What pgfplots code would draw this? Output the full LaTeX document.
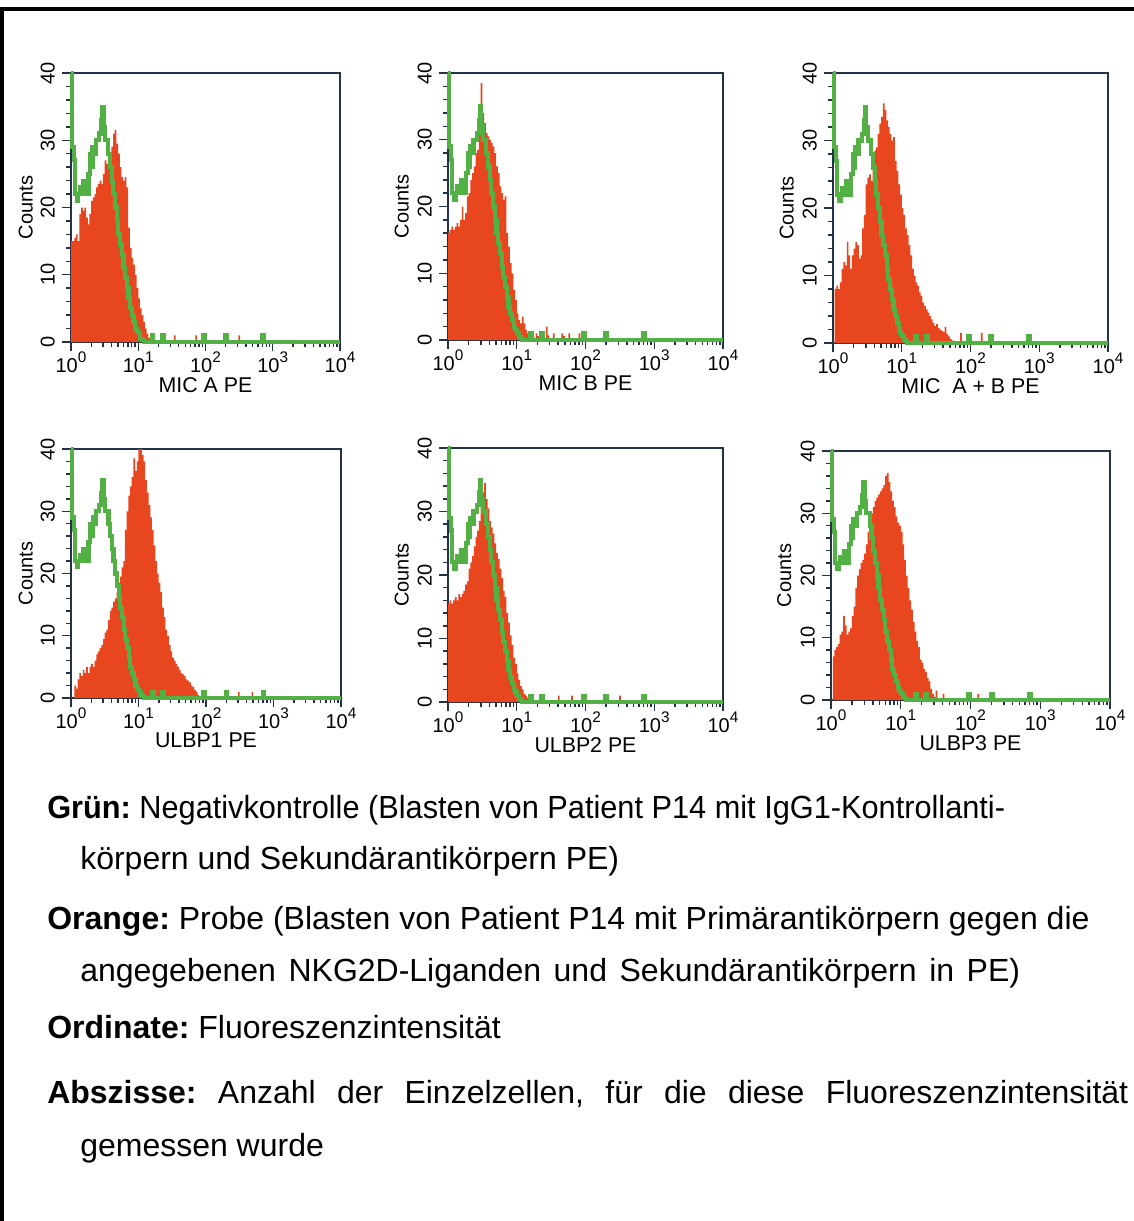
\documentclass[border=0pt]{standalone}
\usepackage{fontspec}
\setmainfont{Liberation Sans}
\usepackage{pgfplots}
\usepackage{pgfplotstable}
\pgfplotsset{compat=1.18}
\definecolor{orangeC}{RGB}{232,70,30}
\definecolor{greenC}{RGB}{82,176,68}
\definecolor{axiscol}{RGB}{35,50,70}
\newcommand\tsup[1]{\raisebox{0.5em}{\fontsize{11.5}{12}\selectfont #1}}

\pgfplotstableread{
d c
0.000 40
0.020 29
0.045 27
0.060 22
0.085 21
0.110 22
0.135 23
0.160 22
0.185 24
0.210 23
0.235 22
0.260 25
0.285 28
0.300 26
0.320 29
0.345 28
0.370 30
0.395 30
0.420 31
0.445 33
0.465 35
0.485 32
0.505 30
0.530 30
0.555 28
0.580 26
0.605 24
0.630 22
0.655 20
0.680 18
0.705 16
0.730 14.5
0.755 13
0.780 11
0.805 9.5
0.830 8
0.855 6.5
0.880 5
0.905 4
0.930 3
0.955 2
0.980 1.5
1.005 1
1.030 0.5
1.055 0.3
1.080 0
1.200 1
1.225 0
1.350 1
1.375 0
1.960 1
1.985 0
2.290 1
2.315 0
2.840 1
2.865 0
4.000 0
}\tblGreen

\pgfplotstableread{
d c
0.000 15
0.025 15
0.050 15.5
0.075 16
0.100 15
0.125 19
0.150 20
0.175 19.5
0.200 20
0.225 18.5
0.250 17.5
0.275 19
0.300 21
0.325 21.5
0.350 22
0.375 23
0.400 23.5
0.425 24
0.450 23.5
0.475 25
0.500 27
0.525 26.5
0.550 28
0.575 27.5
0.600 29
0.625 31
0.650 31.5
0.675 29.5
0.700 28
0.725 26
0.750 24.5
0.775 24
0.800 24.5
0.825 23
0.850 17
0.875 14
0.900 12.5
0.925 11.5
0.950 10
0.975 8
1.000 6.5
1.025 5
1.050 4
1.075 3
1.100 2
1.125 1.2
1.150 0.6
1.175 0
1.530 1
1.555 0
1.850 1
1.875 0
2.490 1
2.515 0
4.000 0
}\tblA

\pgfplotstableread{
d c
0.000 16
0.025 16.5
0.050 17
0.075 16.5
0.100 17
0.125 17.5
0.150 17
0.175 18
0.200 20
0.225 18
0.250 19
0.275 21.5
0.300 22
0.325 24
0.350 25
0.375 26
0.400 28
0.425 28.5
0.450 33
0.475 38.5
0.500 34
0.525 32.5
0.550 31
0.575 30.5
0.600 30
0.625 29.5
0.650 29
0.675 28
0.700 26
0.725 25
0.750 23
0.775 22
0.800 21
0.825 21.5
0.850 16
0.875 14
0.900 11.5
0.925 10
0.950 7.5
0.975 6
1.000 4
1.025 3
1.050 2.5
1.075 3.5
1.100 2.5
1.125 1.5
1.150 1
1.175 1
1.200 0.7
1.225 0
1.275 1
1.300 0.6
1.325 1
1.350 0.5
1.375 0
1.425 2
1.450 0.7
1.475 0
1.525 1
1.550 0
1.650 1
1.675 0.6
1.700 0
1.750 1
1.775 0
1.900 1
1.925 0
4.000 0
}\tblB

\pgfplotstableread{
d c
0.000 0
0.025 8
0.050 8.5
0.075 8
0.100 9
0.125 11
0.150 12
0.175 11.5
0.200 15
0.225 13
0.250 11
0.275 13
0.300 14
0.325 15
0.350 14.5
0.375 12.5
0.400 13
0.425 17
0.450 19
0.475 23.5
0.500 24.5
0.525 25
0.550 24
0.575 26.5
0.600 28.5
0.625 29
0.650 31
0.675 32.5
0.700 33.5
0.725 35.5
0.750 34.5
0.775 33
0.800 32
0.825 31
0.850 30
0.875 30.5
0.900 27
0.925 25.5
0.950 23.5
0.975 22
1.000 20
1.025 19
1.050 17
1.075 16
1.100 14.5
1.125 13
1.150 11
1.175 10
1.200 9
1.225 8.5
1.250 7.5
1.275 7
1.300 6
1.325 5.5
1.350 5
1.375 4.5
1.400 4
1.425 3.5
1.450 3
1.475 2.5
1.500 2.8
1.525 2.2
1.550 2
1.575 1.8
1.600 1.6
1.625 2.4
1.650 1.3
1.675 1
1.700 0.6
1.725 0.4
1.750 0
1.850 1.5
1.875 0
2.150 1.5
2.175 0
4.000 0
}\tblAB

\pgfplotstableread{
d c
0.000 0
0.050 2
0.075 1.5
0.100 3
0.125 4
0.150 3.5
0.175 4.5
0.200 4
0.225 5
0.250 4
0.275 5
0.300 5.5
0.325 5
0.350 6
0.375 7
0.400 7.5
0.425 8
0.450 8.5
0.475 9.5
0.500 10.5
0.525 11
0.550 12.5
0.575 14
0.600 14.5
0.625 15.5
0.650 16
0.675 17
0.700 18.5
0.725 19.5
0.750 21
0.775 22
0.800 27
0.825 30
0.850 32.5
0.875 34
0.900 35.5
0.925 38.5
0.950 36.5
0.975 38
1.000 40
1.025 40
1.050 39
1.075 38
1.100 35
1.125 33
1.150 31
1.175 29
1.200 27
1.225 24.5
1.250 22
1.275 20
1.300 18.5
1.325 17
1.350 14.5
1.375 13
1.400 11
1.425 10
1.450 8.5
1.475 7.5
1.500 6.5
1.525 6
1.550 5.5
1.575 5
1.600 4.5
1.625 4
1.650 3.8
1.675 3.5
1.700 3
1.725 2.8
1.750 2.5
1.775 2
1.800 1.8
1.825 1.3
1.850 1
1.875 0.5
1.900 0
2.475 1
2.500 0
2.675 1
2.700 0
4.000 0
}\tblU

\pgfplotstableread{
d c
0.000 15.5
0.025 16
0.050 15.5
0.075 16
0.100 16.5
0.125 16
0.150 17
0.175 16.5
0.200 17
0.225 17.5
0.250 18.5
0.275 19
0.300 21
0.325 22
0.350 23
0.375 24.5
0.400 26
0.425 27
0.450 28.5
0.475 31
0.500 33
0.525 34.5
0.550 32
0.575 30.5
0.600 28.5
0.625 27.5
0.650 26.5
0.675 25
0.700 23.5
0.725 22.5
0.750 21
0.775 19.5
0.800 17.5
0.825 16.5
0.850 14
0.875 12.5
0.900 10.5
0.925 9
0.950 7
0.975 6
1.000 4.5
1.025 3.5
1.050 2.5
1.075 2
1.100 1.3
1.125 1
1.150 0.6
1.175 0
1.200 1
1.225 0
1.375 1
1.400 0
1.600 1
1.625 0
1.790 1
1.815 0
2.490 1
2.515 0
4.000 0
}\tblUb

\pgfplotstableread{
d c
0.000 0
0.025 7
0.050 8
0.075 8.5
0.100 9
0.125 10.5
0.150 11
0.175 13.5
0.200 12
0.225 10.5
0.250 11
0.275 11.5
0.300 13.5
0.325 15
0.350 18
0.375 20
0.400 21
0.425 22
0.450 22.5
0.475 23.5
0.500 25
0.525 27
0.550 28.5
0.575 30
0.600 31
0.625 32
0.650 32.5
0.675 33
0.700 33.5
0.725 34
0.750 34.5
0.775 36
0.800 36.5
0.825 35
0.850 33.5
0.875 32
0.900 31
0.925 29.5
0.950 28.5
0.975 28
1.000 27
1.025 25
1.050 22.5
1.075 20
1.100 18
1.125 16
1.150 14.5
1.175 12.5
1.200 11
1.225 9.5
1.250 8.5
1.275 6.5
1.300 6
1.325 5
1.350 4.5
1.375 3.5
1.400 3
1.425 1.8
1.450 1
1.475 0.5
1.500 1.5
1.525 0
1.600 1
1.625 0
2.100 1
2.125 0
4.000 0
}\tblUc

\pgfplotsset{
  every axis/.append style={
    scale only axis, xmin=1, xmax=10000, ymin=0, ymax=40,
    clip=false, anchor=south west,
    axis line style={draw=axiscol, line width=1.4pt},
    xtick={1,10,100,1000,10000},
    xticklabels={10\tsup{0},10\tsup{1},10\tsup{2},10\tsup{3},10\tsup{4}},
    ytick={0,10,20,30,40}, yticklabels={0,10,20,30,40}, minor y tick num=4,
    tick align=outside, xtick pos=lower, ytick pos=left,
    major tick length=6.5pt, minor tick length=3.8pt,
    tick style={axiscol, line width=1.1pt},
    tick label style={font=\fontsize{15}{16}\selectfont, text=black},
    xticklabel style={inner sep=1pt},
    yticklabel style={rotate=90, anchor=south, inner ysep=5.5pt},
    ylabel={Counts},
    ylabel style={font=\fontsize{15}{16}\selectfont, at={(axis description cs:-0.168,0.5)}, anchor=center},
    xlabel style={font=\fontsize{16}{17}\selectfont, at={(axis description cs:0.5,0)}, anchor=center, yshift=-32pt},
  },
  orangeh/.style={const plot, fill=orangeC, draw=none},
  greenh/.style={const plot, draw=greenC, line width=3.1pt, line join=miter},
}

\begin{document}
\frenchspacing
\begin{tikzpicture}[x=0.75pt,y=-0.75pt]
\path (0,0) rectangle (1134,1221);
\fill[black] (0,7) rectangle (4,1221);
\fill[black] (0,7) rectangle (1134,11);

\begin{semilogxaxis}[at={(53.25pt,-256.5pt)}, width=201.75pt, height=201.75pt, xlabel={MIC A PE}]
\addplot[orangeh] table[x expr={10^(\thisrow{d})}, y=c]{\tblA} \closedcycle;
\addplot[greenh] table[x expr={10^(\thisrow{d})}, y=c]{\tblGreen};
\end{semilogxaxis}

\begin{semilogxaxis}[at={(336pt,-255pt)}, width=206.25pt, height=200.25pt, xlabel={MIC B PE}]
\addplot[orangeh] table[x expr={10^(\thisrow{d})}, y=c]{\tblB} \closedcycle;
\addplot[greenh] table[x expr={10^(\thisrow{d})}, y=c]{\tblGreen};
\end{semilogxaxis}

\begin{semilogxaxis}[at={(624.75pt,-257.25pt)}, width=206.25pt, height=202.5pt, xlabel={MIC~~A + B PE}]
\addplot[orangeh] table[x expr={10^(\thisrow{d})}, y=c]{\tblAB} \closedcycle;
\addplot[greenh] table[x expr={10^(\thisrow{d})}, y=c]{\tblGreen};
\end{semilogxaxis}

\begin{semilogxaxis}[at={(53.25pt,-523.5pt)}, width=202.5pt, height=186.75pt, xlabel={ULBP1 PE}]
\addplot[orangeh] table[x expr={10^(\thisrow{d})}, y=c]{\tblU} \closedcycle;
\addplot[greenh] table[x expr={10^(\thisrow{d})}, y=c]{\tblGreen};
\end{semilogxaxis}

\begin{semilogxaxis}[at={(336pt,-526.5pt)}, width=206.25pt, height=190.5pt, xlabel={ULBP2 PE}]
\addplot[orangeh] table[x expr={10^(\thisrow{d})}, y=c]{\tblUb} \closedcycle;
\addplot[greenh] table[x expr={10^(\thisrow{d})}, y=c]{\tblGreen};
\end{semilogxaxis}

\begin{semilogxaxis}[at={(623.25pt,-525pt)}, width=209.25pt, height=186.75pt, xlabel={ULBP3 PE}]
\addplot[orangeh] table[x expr={10^(\thisrow{d})}, y=c]{\tblUc} \closedcycle;
\addplot[greenh] table[x expr={10^(\thisrow{d})}, y=c]{\tblGreen};
\end{semilogxaxis}

\begin{scope}[every node/.style={inner sep=0pt, font=\fontsize{24}{28}\selectfont}]
\node[anchor=base west] at (47,818) {\scalebox{0.96}[1]{\textbf{Grün:} Negativkontrolle (Blasten von Patient P14 mit IgG1-Kontrollanti-}};
\node[anchor=base west] at (80,869) {körpern und Sekundärantikörpern PE)};
\node[anchor=base west] at (47,929) {\textbf{Orange:} Probe (Blasten von Patient P14 mit Primärantikörpern gegen die};
\node[anchor=base west] at (80,981) {\makebox[705pt][s]{angegebenen NKG2D-Liganden und Sekundärantikörpern in PE)}};
\node[anchor=base west] at (47,1038) {\textbf{Ordinate:} Fluoreszenzintensität};
\node[anchor=base west] at (47,1103) {\makebox[810.75pt][s]{\textbf{Abszisse:} Anzahl der Einzelzellen, für die diese Fluoreszenzintensität}};
\node[anchor=base west] at (80,1156) {gemessen wurde};
\end{scope}
\end{tikzpicture}
\end{document}
